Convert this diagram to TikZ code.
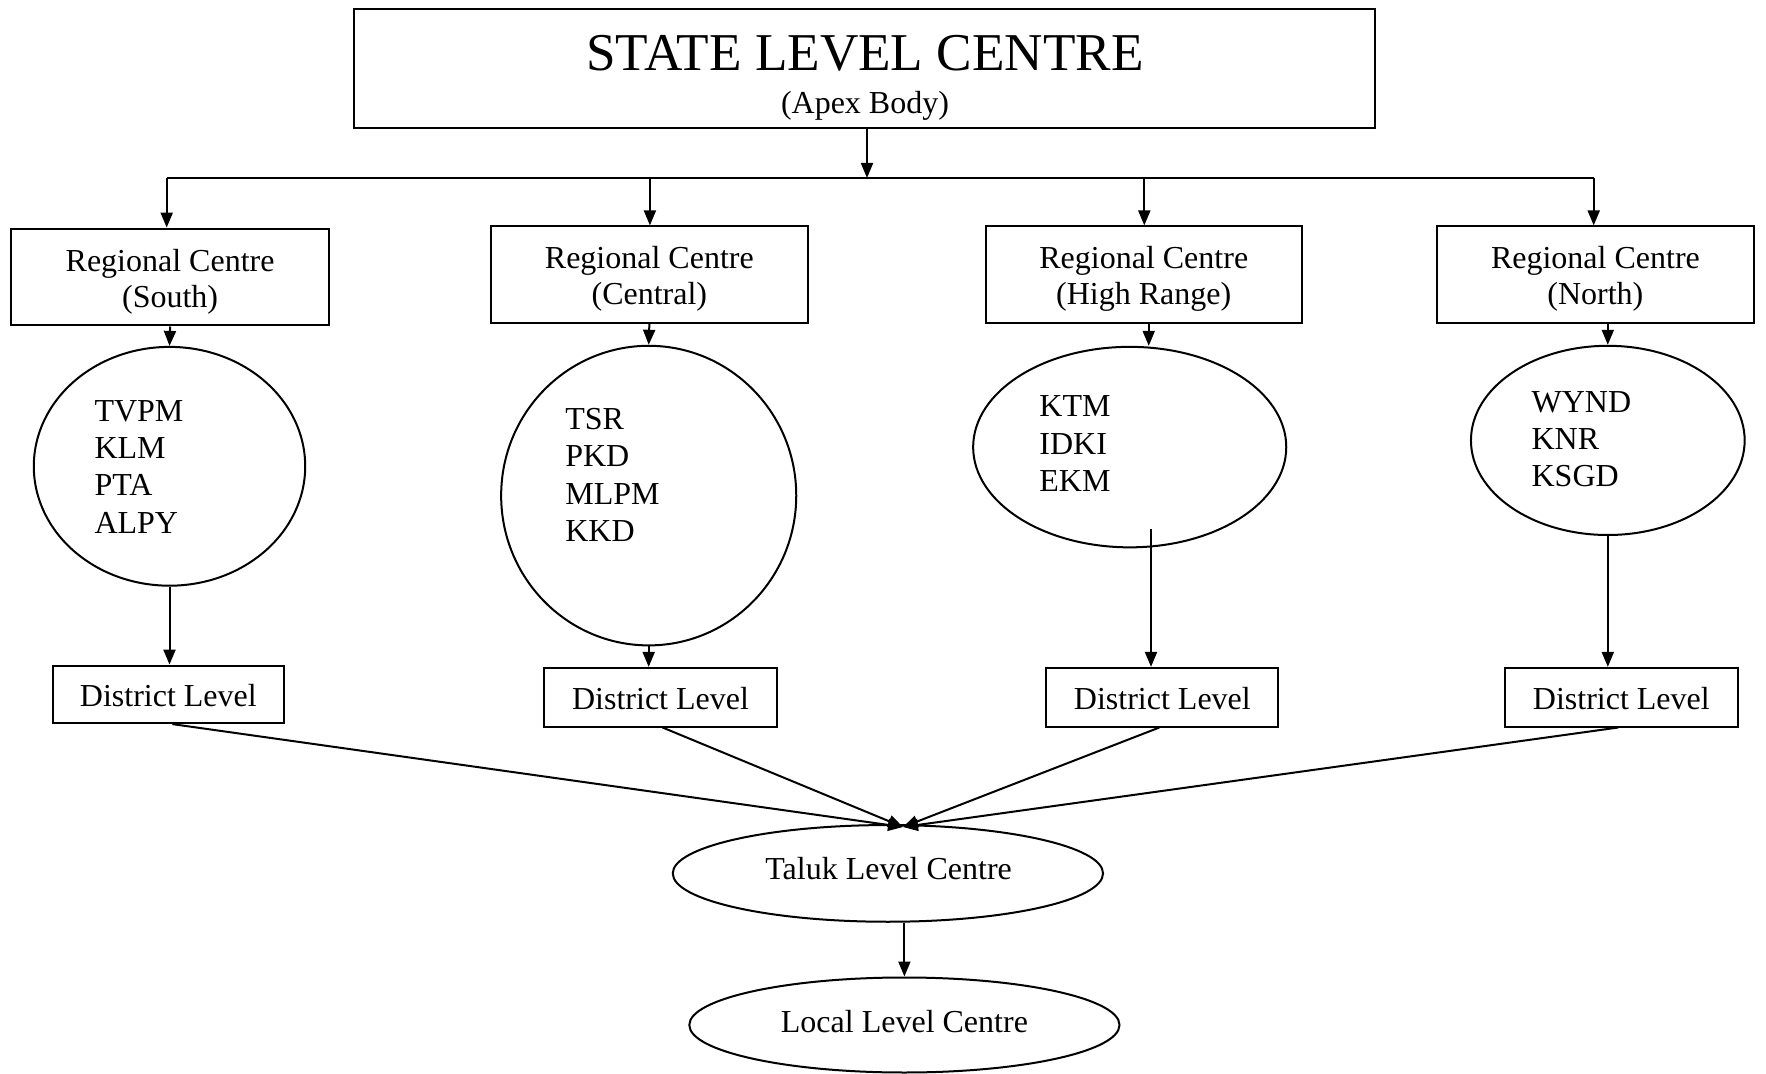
\documentclass[tikz,border=0pt]{standalone}
\usepackage{fontspec}
\setmainfont{Liberation Serif}
\usetikzlibrary{shapes.geometric,arrows.meta}
\begin{document}
\begin{tikzpicture}[x=0.5pt,y=-0.5pt,
  every node/.style={font=\fontsize{16}{18}\selectfont},
  line width=1pt,
  arr/.style={-{Triangle[length=7.5pt,width=6pt]}},
  box/.style={draw,rectangle,inner sep=0pt,align=center},
  oval/.style={draw,ellipse,inner sep=0pt},
  txt/.style={inner sep=0pt,align=center},
  lst/.style={inner sep=0pt,anchor=west,align=left,font=\fontsize{16}{18.6}\selectfont}]
\useasboundingbox (0,0) rectangle (1766,1074);
% state level
\node[box,minimum width=510.75pt,minimum height=59.7pt] (state) at (864.5,68.7) {};
\node[txt,anchor=base,font=\fontsize{26.6}{30}\selectfont] (title) at (865,70.6) {STATE LEVEL CENTRE};
\node[txt,anchor=base] (apex) at (865,113.5) {(Apex Body)};
% regional centres
\node[box,minimum width=158.8pt,minimum height=48.45pt] (south) at (170.1,277.05) {};
\node[box,minimum width=158.25pt,minimum height=48.4pt] (central) at (649.35,274.8) {};
\node[box,minimum width=158.25pt,minimum height=48.4pt] (hr) at (1143.75,274.8) {};
\node[box,minimum width=158.2pt,minimum height=48.4pt] (north) at (1595.4,274.8) {};
\node[txt] (southT) at (170.1,281.5) {Regional Centre\\(South)};
\node[txt] (centralT) at (649.35,279) {Regional Centre\\(Central)};
\node[txt] (hrT) at (1143.75,279) {Regional Centre\\(High Range)};
\node[txt] (northT) at (1595.4,279) {Regional Centre\\(North)};
% ellipses
\node[oval,minimum width=135.7pt,minimum height=119.4pt] (southE) at (169.5,466.3) {};
\node[oval,minimum width=147.55pt,minimum height=149.8pt] (centralE) at (648.7,495.6) {};
\node[oval,minimum width=156.55pt,minimum height=100.25pt] (hrE) at (1129.7,447.1) {};
\node[oval,minimum width=136.85pt,minimum height=94.6pt] (northE) at (1607.8,440.4) {};
\node[lst] (southL) at (93.5,466.8) {TVPM\\KLM\\PTA\\ALPY};
\node[lst] (centralL) at (564.3,475) {TSR\\PKD\\MLPM\\KKD};
\node[lst] (hrL) at (1038.4,443.6) {KTM\\IDKI\\EKM};
\node[lst] (northL) at (1530.6,439) {WYND\\KNR\\KSGD};
% district
\node[box,minimum width=115.45pt,minimum height=28.75pt] (southD) at (168.35,694.35) {};
\node[box,minimum width=116.55pt,minimum height=29.3pt] (centralD) at (660.55,697.2) {};
\node[box,minimum width=116.05pt,minimum height=29.3pt] (hrD) at (1162.35,697.2) {};
\node[box,minimum width=116.6pt,minimum height=29.3pt] (northD) at (1621.3,697.2) {};
\node[txt] (southDT) at (168.35,696) {District Level};
\node[txt] (centralDT) at (660.55,698.5) {District Level};
\node[txt] (hrDT) at (1162.35,698.5) {District Level};
\node[txt] (northDT) at (1621.3,698.5) {District Level};
% taluk and local
\node[oval,minimum width=215.15pt,minimum height=48.35pt] (taluk) at (887.9,873.4) {};
\node[txt] (talukT) at (888.6,868.4) {Taluk Level Centre};
\node[oval,minimum width=215.1pt,minimum height=47.5pt] (local) at (904.4,1025) {};
\node[txt] (localT) at (904.4,1021.6) {Local Level Centre};
% coordinates
\coordinate (hub) at (867,178);
\coordinate (bus1) at (166.7,178);
\coordinate (bus2) at (649.9,178);
\coordinate (bus3) at (1144.3,178);
\coordinate (bus4) at (1593.7,178);
\coordinate (hrStart) at (1151,529.4);
\coordinate (tip) at (903,827);
% connectors
\draw[arr] (state.south -| hub) -- (hub);
\draw (bus1) -- (bus4);
\draw[arr] (bus1) -- (bus1 |- south.north);
\draw[arr] (bus2) -- (bus2 |- central.north);
\draw[arr] (bus3) -- (bus3 |- hr.north);
\draw[arr] (bus4) -- (bus4 |- north.north);
\draw[arr] (south.south) -- (southE.north);
\draw[arr] (central.south) -- (centralE.north);
\draw[arr] ([xshift=2.5pt]hr.south) -- ([xshift=2.5pt]hr.south |- hrE.north);
\draw[arr] (northE.north |- north.south) -- (northE.north);
\draw[arr] (southE.south) -- (southE.south |- southD.north);
\draw[arr] (centralE.south) -- (centralE.south |- centralD.north);
\draw[arr] (hrStart) -- (hrStart |- hrD.north);
\draw[arr] (northE.south) -- (northE.south |- northD.north);
\draw[arr] ([xshift=2pt]southD.south) -- (tip);
\draw[arr] ([xshift=1pt]centralD.south) -- (tip);
\draw[arr] ([xshift=-1.5pt]hrD.south) -- (tip);
\draw[arr] ([xshift=-1.5pt]northD.south) -- (tip);
\draw[arr] (local.north |- taluk.south) -- (local.north);
\end{tikzpicture}
\end{document}
